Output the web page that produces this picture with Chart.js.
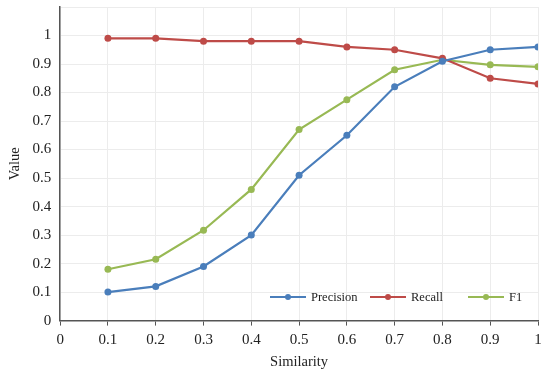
<!DOCTYPE html>
<html><head><meta charset="utf-8">
<script src="https://cdn.jsdelivr.net/npm/chart.js@4/dist/chart.umd.min.js"></script>
<style>html,body{margin:0;padding:0;background:#fff}#wrap{width:550px;height:376px}</style>
</head><body><div id="wrap"><canvas id="c" width="550" height="376"></canvas></div>
<script>
const similarity = [0.1,0.2,0.3,0.4,0.5,0.6,0.7,0.8,0.9,1.0];
const precision = [0.10,0.12,0.19,0.30,0.51,0.65,0.82,0.91,0.95,0.96];
const recall    = [0.99,0.99,0.98,0.98,0.98,0.96,0.95,0.92,0.85,0.83];
const f1        = [0.18,0.215,0.317,0.46,0.67,0.775,0.88,0.915,0.897,0.89];
const seriesNames = ['Precision','Recall','F1'];
const colors = ['#4A7EBB','#BE4B48','#98B954'];
const FONT = "'Liberation Serif','Times New Roman',serif";

const mk = (vals,i)=>({label:seriesNames[i],data:similarity.map((x,k)=>({x:x,y:vals[k]})),
  borderColor:colors[i],backgroundColor:colors[i],borderWidth:2.2,pointRadius:3.5,pointBorderWidth:0,pointHoverRadius:3.5,tension:0});

const legendPlugin={id:'inLegend',afterDraw(chart){
  const ctx=chart.ctx;ctx.save();
  ctx.font='12.5px '+FONT;ctx.textBaseline='middle';
  const y=297;
  const starts=[270,370,468];
  chart.data.datasets.forEach((ds,i)=>{
    const x=starts[i];
    ctx.strokeStyle=ds.borderColor;ctx.lineWidth=2.2;
    ctx.beginPath();ctx.moveTo(x,y);ctx.lineTo(x+36,y);ctx.stroke();
    ctx.fillStyle=ds.borderColor;ctx.beginPath();ctx.arc(x+18,y,3,0,Math.PI*2);ctx.fill();
    ctx.fillStyle='#222';ctx.fillText(ds.label,x+41,y+1);
  });
  ctx.restore();
}};

new Chart(document.getElementById('c'),{
  type:'line',
  data:{datasets:[mk(precision,0),mk(recall,1),mk(f1,2)]},
  options:{responsive:false,animation:false,devicePixelRatio:1,
    layout:{padding:{left:2,right:12,top:7,bottom:5}},
    plugins:{legend:{display:false},tooltip:{enabled:false}},
    scales:{
      x:{type:'linear',min:0,max:1,
        ticks:{stepSize:0.1,color:'#222',font:{family:FONT,size:15},padding:5,
          callback:v=>Math.round(v*10)/10+''},
        grid:{color:'#ececec',tickColor:'#555',tickLength:5,lineWidth:1},
        border:{color:'#555',width:1.5},
        title:{display:true,text:'Similarity',color:'#222',font:{family:FONT,size:14.5},padding:{top:0,bottom:0}}},
      y:{type:'linear',min:0,max:1.1,
        afterFit:s=>{s.paddingTop=0;},
        ticks:{stepSize:0.1,color:'#222',font:{family:FONT,size:15},padding:9,
          callback:v=>{const r=Math.round(v*10)/10;return r>1?'':r+'';}},
        grid:{color:'#ececec',drawTicks:false,lineWidth:1},
        border:{color:'#555',width:1.5},
        title:{display:true,text:'Value',color:'#222',font:{family:FONT,size:14.5},padding:{top:4,bottom:0}}}
    }},
  plugins:[legendPlugin]
});
</script></body></html>
